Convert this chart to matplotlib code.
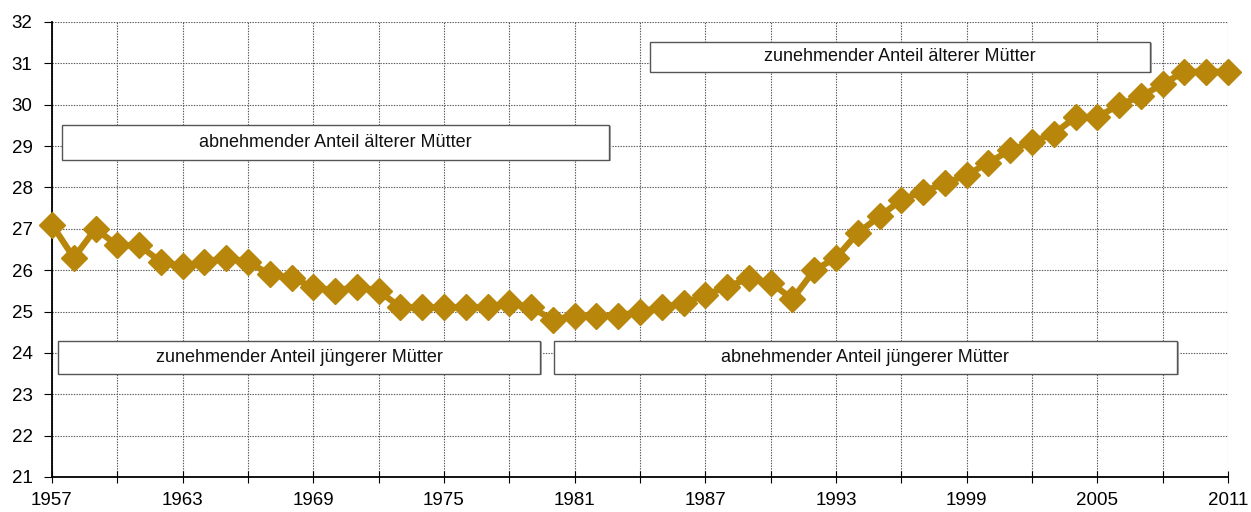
import matplotlib
matplotlib.use("Agg")
import matplotlib.pyplot as plt
from matplotlib.patches import Rectangle
from matplotlib import font_manager

years = list(range(1957, 2012))
age = [27.1, 26.3, 27.0, 26.6, 26.6, 26.2, 26.1, 26.2, 26.3, 26.2,
       25.9, 25.8, 25.6, 25.5, 25.6, 25.5, 25.1, 25.1, 25.1, 25.1,
       25.1, 25.2, 25.1, 24.8, 24.9, 24.9, 24.9, 25.0, 25.1, 25.2,
       25.4, 25.6, 25.8, 25.7, 25.3, 26.0, 26.3, 26.9, 27.3, 27.7,
       27.9, 28.1, 28.3, 28.6, 28.9, 29.1, 29.3, 29.7, 29.7, 30.0,
       30.2, 30.5, 30.8, 30.8, 30.8]

x_ticks = list(range(1957, 2012, 6))
x_grid = list(range(1957, 2012, 3))
y_ticks = list(range(21, 33))

box_labels = ["abnehmender Anteil älterer Mütter",
              "zunehmender Anteil älterer Mütter",
              "zunehmender Anteil jüngerer Mütter",
              "abnehmender Anteil jüngerer Mütter"]
box_x0 = [1957.46, 1984.46, 1957.28, 1980.05]
box_x1 = [1982.57, 2007.41, 1979.41, 2008.65]
box_y0 = [28.66, 30.79, 23.49, 23.49]
box_y1 = [29.51, 31.52, 24.29, 24.29]

names = {f.name for f in font_manager.fontManager.ttflist}
fam = "Liberation Sans Narrow" if "Liberation Sans Narrow" in names else "Liberation Sans"
plt.rcParams["font.family"] = [fam, "DejaVu Sans"]

fig = plt.figure(figsize=(12.51, 5.12), dpi=100)
ax = fig.add_axes([52 / 1251, 35 / 512, 1176 / 1251, 455 / 512])

ax.set_xlim(1957, 2011)
ax.set_ylim(21, 32)
ax.set_xticks(x_grid)
ax.set_xticklabels([str(y) if y in x_ticks else "" for y in x_grid])
ax.set_yticks(y_ticks)
ax.grid(True, color="#555555", linestyle=(0, (1.2, 1.2)), linewidth=0.8)
ax.set_axisbelow(True)

for s in ["top", "right"]:
    ax.spines[s].set_visible(False)
ax.spines["left"].set_linewidth(1.3)
ax.spines["bottom"].set_linewidth(1.3)
ax.tick_params(axis="x", direction="inout", length=8, width=0.8, labelsize=13.5, pad=7)
ax.tick_params(axis="y", direction="out", length=6, width=0.8, labelsize=13.5, pad=8)

ax.plot(years, age, color="#B8860B", linewidth=4.5, marker="D",
        markersize=13, clip_on=False, zorder=5)

for lab, x0, x1, y0, y1 in zip(box_labels, box_x0, box_x1, box_y0, box_y1):
    ax.add_patch(Rectangle((x0 + 0.1, y0 - 0.03), x1 - x0, y1 - y0,
                           facecolor="#aaaaaa", edgecolor="none", zorder=6))
    ax.add_patch(Rectangle((x0, y0), x1 - x0, y1 - y0, facecolor="white",
                           edgecolor="#555555", linewidth=1, zorder=7))
    ax.text((x0 + x1) / 2, (y0 + y1) / 2, lab, ha="center", va="center",
            fontsize=13, color="#111111", zorder=8)

fig.savefig("out.png", dpi=100)
